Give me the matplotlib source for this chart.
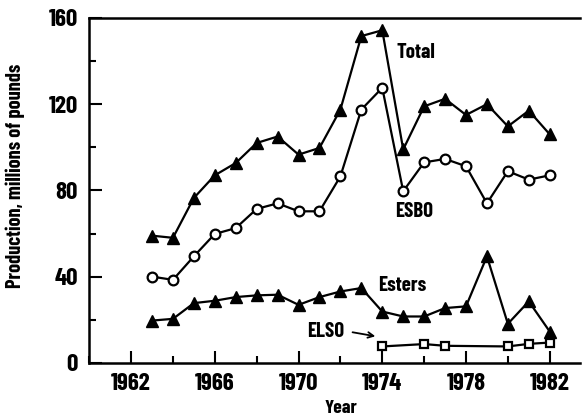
import matplotlib.pyplot as plt
from matplotlib.ticker import MultipleLocator

plt.rcParams['font.family'] = ['Barlow Condensed', 'DejaVu Sans']
plt.rcParams['font.weight'] = 'bold'
plt.rcParams['axes.labelweight'] = 'bold'

years = list(range(1963, 1983))
total = [59, 58, 76.5, 87, 92.7, 102, 105, 96.6, 99.7, 117.5,
         151.6, 154.3, 99, 119, 122.5, 115, 120, 109.7, 117, 106]
esbo = [40, 38.5, 49.4, 59.8, 62.5, 71.4, 74, 70.3, 70.3, 86.5,
        117.5, 127.6, 79.6, 93, 94.6, 91.2, 74, 88.9, 85, 87]
esters = [19.6, 20.4, 27.7, 28.8, 30.5, 31.3, 31.6, 26.9, 30.5, 33.1,
          34.7, 23.8, 21.5, 21.5, 25.4, 26.2, 49.4, 18.1, 28.5, 14.5]
elso_years = [1974, 1976, 1977, 1980, 1981, 1982]
elso = [7.6, 8.7, 7.9, 7.6, 8.8, 9.4]

fig = plt.figure(figsize=(5.83, 4.18), dpi=100)
ax = fig.add_axes([0.153, 0.132, 0.842, 0.825])

ax.plot(years, total, color='black', lw=1.6, marker='^', ms=9, mfc='black', mec='black')
ax.plot(years, esbo, color='black', lw=1.6, marker='o', ms=7, mfc='white', mec='black', mew=1.6)
ax.plot(years, esters, color='black', lw=1.6, marker='^', ms=9, mfc='black', mec='black')
ax.plot(elso_years, elso, color='black', lw=1.6, marker='s', ms=6, mfc='white', mec='black', mew=1.6)

ax.text(1974.7, 144, 'Total', fontsize=15, va='center')
ax.text(1974.6, 70, 'ESBO', fontsize=15, va='center')
ax.text(1973.8, 36, 'Esters', fontsize=15, va='center')
ax.text(1970.4, 14.4, 'ELSO', fontsize=15, va='center')
ax.annotate('', xy=(1973.8, 12.1), xytext=(1972.45, 14.4),
            arrowprops=dict(arrowstyle='->', color='black', lw=1.3))

ax.set_xlim(1960, 1983.45)
ax.set_ylim(0, 160)
ax.set_xticks(range(1962, 1983, 4))
ax.xaxis.set_minor_locator(MultipleLocator(2))
ax.yaxis.set_major_locator(MultipleLocator(40))
ax.yaxis.set_minor_locator(MultipleLocator(20))
ax.tick_params(which='both', direction='in', width=1.5, labelsize=18)
ax.tick_params(axis='x', which='both', pad=7)
ax.tick_params(axis='y', which='both', pad=8)
ax.tick_params(which='major', length=9)
ax.tick_params(which='minor', length=5)
ax.spines['right'].set_visible(False)
for s in ['top', 'left', 'bottom']:
    ax.spines[s].set_linewidth(1.8)

ax.set_xlabel('Year', fontsize=14, va='top')
ax.xaxis.set_label_coords(0.513, -0.108)
ax.set_ylabel('Production, millions of pounds', fontsize=14.7)
ax.yaxis.set_label_coords(-0.13, 0.542)

fig.savefig('out.png', dpi=100)
